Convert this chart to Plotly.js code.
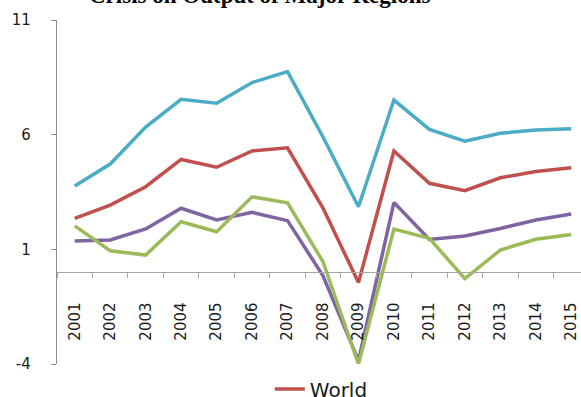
<!DOCTYPE html>
<html>
<head>
<meta charset="utf-8">
<script src="https://cdn.plot.ly/plotly-3.0.1.min.js"></script>
<style>
  html, body { margin: 0; padding: 0; overflow: hidden; background: #ffffff; }
  #chart { width: 600px; height: 397px; }
</style>
</head>
<body>
<div id="chart"></div>
<script>
// Real GDP growth (%) by year
const years = ["2001","2002","2003","2004","2005","2006","2007","2008",
               "2009","2010","2011","2012","2013","2014","2015"];
const world     = [2.35, 2.93, 3.73, 4.92, 4.58, 5.29, 5.43, 2.80, -0.45, 5.29, 3.88, 3.56, 4.12, 4.39, 4.56];
const emerging  = [3.76, 4.72, 6.33, 7.54, 7.37, 8.27, 8.75, 5.90, 2.86, 7.51, 6.23, 5.72, 6.06, 6.20, 6.26];
const advanced  = [1.36, 1.41, 1.89, 2.79, 2.28, 2.61, 2.25, -0.15, -3.85, 3.04, 1.43, 1.58, 1.91, 2.28, 2.54];
const euroArea  = [2.02, 0.94, 0.75, 2.20, 1.77, 3.29, 3.03, 0.46, -4.00, 1.88, 1.48, -0.28, 0.97, 1.44, 1.65];
const yTicks    = [-4, 1, 6, 11];
const yTickText = ["-4", "1", "6", "11"];

function series(name, values, color, inLegend) {
  return {
    type: "scatter", mode: "lines", name: name,
    x: years, y: values,
    line: { color: color, width: 3.5 },
    showlegend: inLegend,
    cliponaxis: false
  };
}

const traces = [
  series("World", world, "#C0504D", true),
  series("Emerging and Developing Economies", emerging, "#4BACC6", false),
  series("Advanced Economies", advanced, "#8064A2", false),
  series("Euro Area", euroArea, "#9BBB59", false)
];

const layout = {
  width: 600, height: 397,
  margin: { l: 57, r: 11, t: 20, b: 33, autoexpand: false },
  paper_bgcolor: "#ffffff",
  plot_bgcolor: "#ffffff",
  font: { family: "DejaVu Sans, sans-serif", size: 15, color: "#1a1a1a" },
  xaxis: {
    type: "category",
    range: [-0.5, 14.5],
    anchor: "free",
    position: 4 / 15,
    showline: true, linecolor: "#a6a6a6", linewidth: 1.2,
    ticks: "outside", tickson: "boundaries", ticklen: 5, tickcolor: "#a6a6a6",
    tickangle: -90,
    ticklabelstandoff: 23,
    showgrid: false, zeroline: false,
    automargin: false,
    tickfont: { family: "DejaVu Sans, sans-serif", size: 15, color: "#1a1a1a" }
  },
  yaxis: {
    range: [-4, 11],
    tickvals: yTicks,
    ticktext: yTickText,
    showline: true, linecolor: "#8c8c8c", linewidth: 1.2,
    ticks: "outside", ticklen: 5, tickcolor: "#8c8c8c",
    ticklabelstandoff: 17,
    showgrid: false, zeroline: false,
    automargin: false,
    tickfont: { family: "DejaVu Sans, sans-serif", size: 15, color: "#1a1a1a" }
  },
  showlegend: true,
  legend: {
    orientation: "h",
    x: 0.40, xanchor: "left",
    y: -0.073, yanchor: "middle",
    font: { family: "DejaVu Sans, sans-serif", size: 20, color: "#1a1a1a" },
    bgcolor: "rgba(0,0,0,0)"
  },
  annotations: [{
    text: "<b>Crisis on Output of Major Regions</b>",
    xref: "paper", yref: "paper",
    x: 0.38, y: 1.03, xanchor: "center", yanchor: "bottom",
    showarrow: false,
    font: { family: "Liberation Serif, serif", size: 23, color: "#000000" }
  }]
};

Plotly.newPlot("chart", traces, layout, { displayModeBar: false, staticPlot: true });
</script>
</body>
</html>
